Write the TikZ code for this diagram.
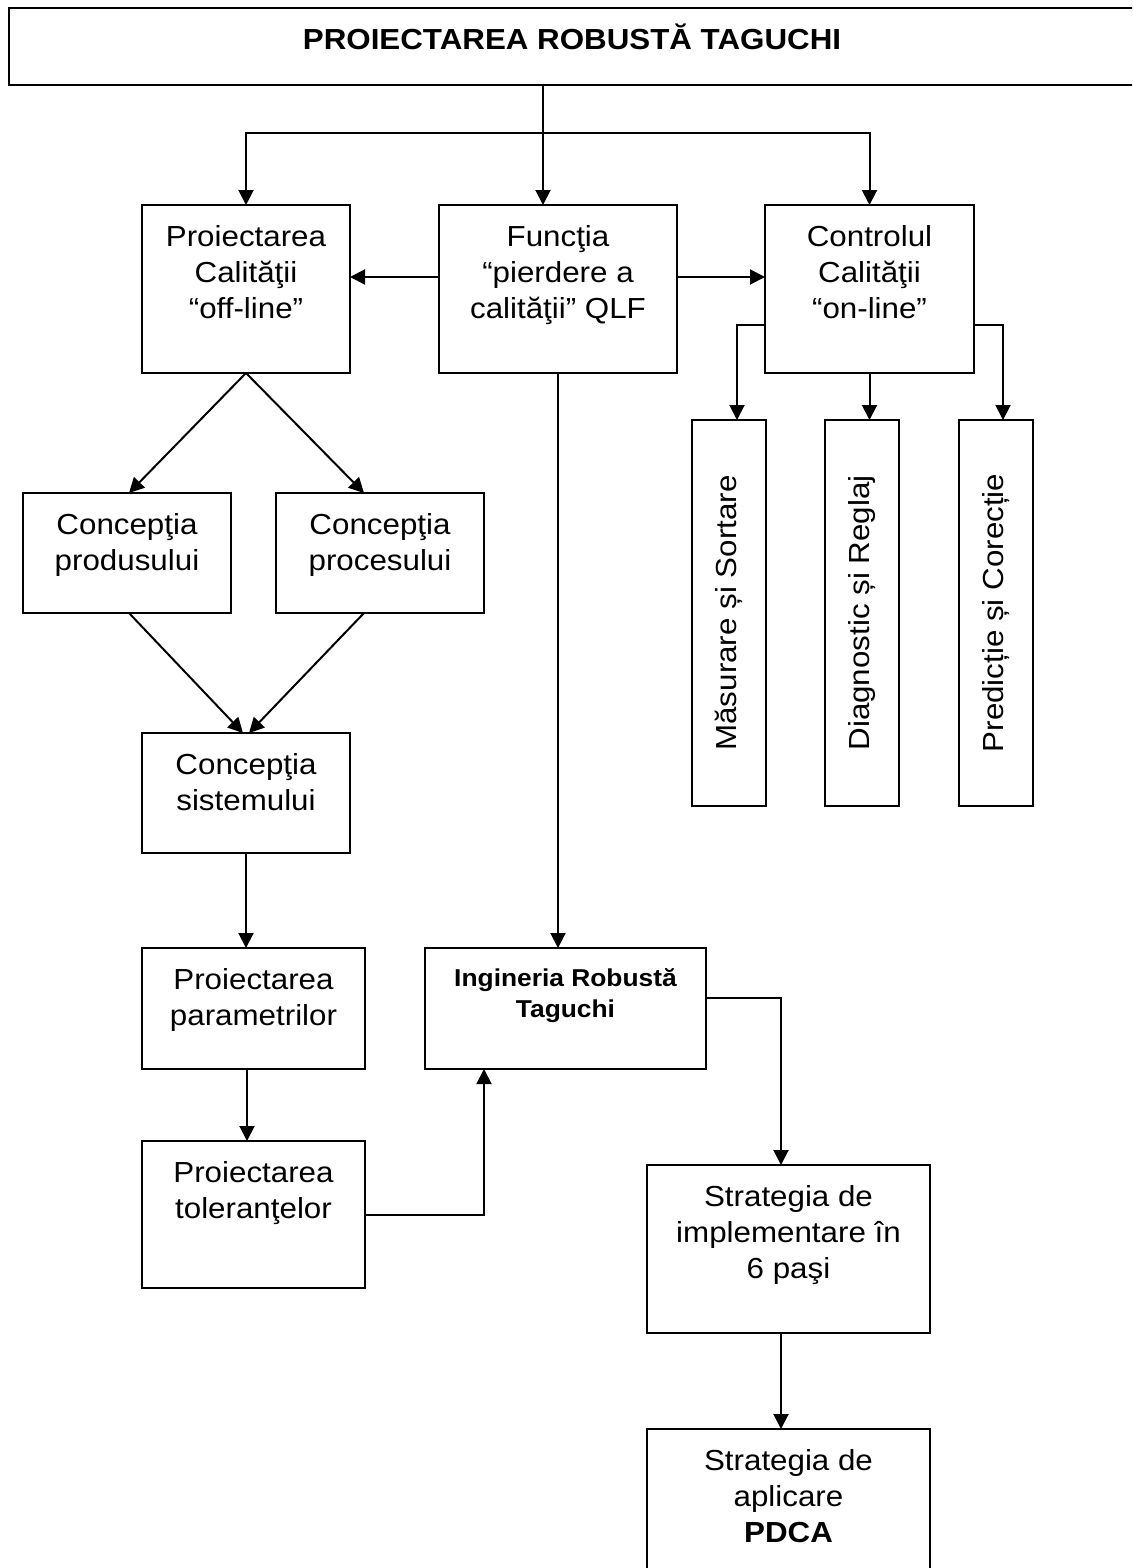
\documentclass[tikz,border=0pt]{standalone}
\usepackage{fontspec}
\setmainfont[FakeStretch=1.08]{Liberation Sans}
\usetikzlibrary{arrows.meta}
\newcommand\fsn{\fontsize{14.5}{18}\selectfont}
\newcommand\bt[3]{\parbox[c][#2][t]{#1}{\centering\fsn\rule{0pt}{20.5pt}#3}}
\tikzset{
  box/.style={draw, line width=1pt, inner sep=0pt, outer sep=0pt, fill=white},
  arr/.style={line width=1pt, -{Triangle[length=7.5pt,width=7.5pt]}},
  ln/.style={line width=1pt}
}
\begin{document}
\begin{tikzpicture}[x=0.5pt,y=-0.5pt]
\useasboundingbox (0,0) rectangle (1132,1568);
\fill[white] (0,0) rectangle (1132,1568);
\clip (0,0) rectangle (1132,1568);

% boxes
\node[box] (title) at (572,46.5) {\parbox[c][38.5pt][t]{563pt}{\centering\fsn\bfseries\rule{0pt}{21pt}PROIECTAREA ROBUSTĂ TAGUCHI}};
\node[box] (off) at (246,289) {\bt{104pt}{84pt}{Proiectarea\\Calităţii\\“off-line”}};
\node[box] (qlf) at (558,289) {\bt{119pt}{84pt}{Funcţia\\“pierdere a\\calităţii” QLF}};
\node[box] (on) at (869.5,289) {\bt{104.5pt}{84pt}{Controlul\\Calităţii\\“on-line”}};

\node[box, minimum width=37pt, minimum height=193pt] (ms) at (729,613) {\rotatebox{90}{\fsn Măsurare și Sortare}};
\node[box, minimum width=37pt, minimum height=193pt] (dr) at (862,613) {\rotatebox{90}{\fsn Diagnostic și Reglaj}};
\node[box, minimum width=37pt, minimum height=193pt] (pc) at (996,613) {\rotatebox{90}{\fsn Predicție și Corecție}};

\node[box] (prod) at (127,553) {\bt{104pt}{60pt}{Concepţia\\produsului}};
\node[box] (proc) at (380,553) {\bt{104pt}{60pt}{Concepţia\\procesului}};
\node[box] (sist) at (246,793) {\bt{104pt}{60pt}{Concepţia\\sistemului}};
\node[box] (param) at (253.5,1008.5) {\bt{111.5pt}{60.5pt}{Proiectarea\\parametrilor}};
\node[box] (tol) at (253.5,1214.5) {\bt{111.5pt}{73.5pt}{Proiectarea\\toleranţelor}};
\node[box] (irt) at (565.5,1008.5) {\parbox[c][60.5pt][t]{140.5pt}{\centering\fontsize{12.2}{15.5}\selectfont\bfseries\rule{0pt}{19pt}Ingineria Robustă\\Taguchi}};
\node[box] (impl) at (788.5,1249) {\bt{141.5pt}{84pt}{Strategia de\\implementare în\\6 paşi}};
\node[box] (pdca) at (788.5,1509.5) {\bt{141.5pt}{80.5pt}{Strategia de\\aplicare\\\textbf{PDCA}}};

% connectors
\coordinate (j1) at (543,133);
\draw[arr] (title.south -| j1) -- (qlf.north -| j1);
\draw[arr] (j1) -| (off.north);
\draw[arr] (j1) -| (on.north);

\draw[arr] ([yshift=6pt]qlf.west) -- ([yshift=6pt]off.east);
\draw[arr] ([yshift=6pt]qlf.east) -- ([yshift=6pt]on.west);

\draw[arr] ([yshift=-18pt]on.west) -| ([xshift=4pt]ms.north);
\draw[arr] (on.south) -- (on.south |- dr.north);
\draw[arr] ([yshift=-18pt]on.east) -| ([xshift=3.5pt]pc.north);

\draw[arr] (off.south) -- ([xshift=1pt]prod.north);
\draw[arr] (off.south) -- ([xshift=-8pt]proc.north);
\draw[arr] ([xshift=1pt]prod.south) -- ([xshift=-1.5pt]sist.north);
\draw[arr] ([xshift=-8pt]proc.south) -- ([xshift=1.5pt]sist.north);

\draw[arr] (sist.south) -- (sist.south |- param.north);
\draw[arr] ([xshift=-3.25pt]param.south) -- ([xshift=-3.25pt]tol.north);
\draw[arr] (qlf.south) -- (qlf.south |- irt.north);
\draw[arr] (tol.east) -| ([xshift=-40.75pt]irt.south);
\draw[arr] ([yshift=5.25pt]irt.east) -| ([xshift=-3.75pt]impl.north);
\draw[arr] ([xshift=-3.75pt]impl.south) -- ([xshift=-3.75pt]pdca.north);
\end{tikzpicture}
\end{document}
